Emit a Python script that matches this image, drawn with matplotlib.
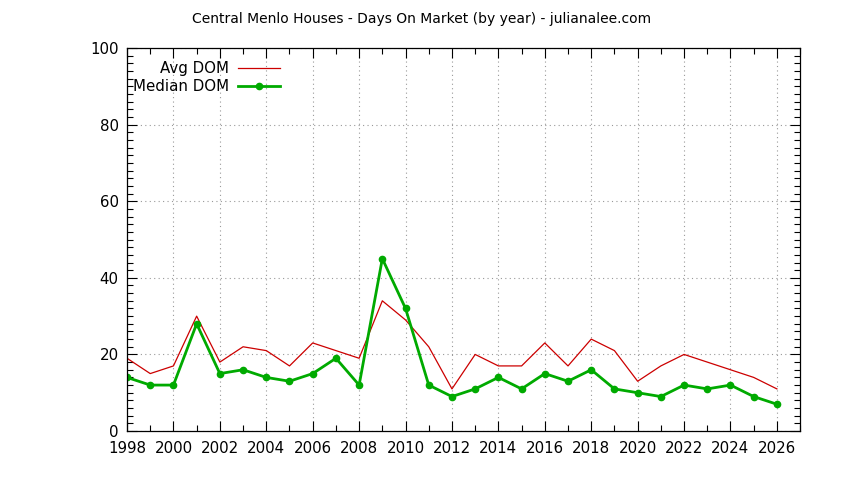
import matplotlib
matplotlib.use("Agg")
import matplotlib.pyplot as plt
from matplotlib.ticker import MultipleLocator

years = list(range(1998, 2027))
avg_dom = [19, 15, 17, 30, 18, 22, 21, 17, 23, 21, 19, 34, 29, 22, 11,
           20, 17, 17, 23, 17, 24, 21, 13, 17, 20, 18, 16, 14, 11]
median_dom = [14, 12, 12, 28, 15, 16, 14, 13, 15, 19, 12, 45, 32, 12, 9,
              11, 14, 11, 15, 13, 16, 11, 10, 9, 12, 11, 12, 9, 7]

plt.rcParams['font.family'] = ['DejaVu Sans']

fig = plt.figure(figsize=(8.44, 4.8), dpi=100)
ax = fig.add_axes([0.1505, 0.102, 0.7975, 0.798])

ax.plot(years, avg_dom, color='#cc0000', linewidth=0.9, label='Avg DOM')
ax.plot(years, median_dom, color='#00aa00', linewidth=2.0, marker='o',
        markersize=4.5, label='Median DOM')

ax.set_xlim(1998, 2027)
ax.set_ylim(0, 100)
ax.xaxis.set_major_locator(MultipleLocator(2))
ax.xaxis.set_minor_locator(MultipleLocator(1))
ax.yaxis.set_major_locator(MultipleLocator(20))
ax.yaxis.set_minor_locator(MultipleLocator(2))
ax.tick_params(which='both', direction='in', top=True, right=True,
               labelsize=10.8, colors='black')
ax.tick_params(axis='x', pad=7)
ax.tick_params(axis='y', pad=6)
ax.tick_params(which='major', length=7, width=0.8)
ax.tick_params(which='minor', length=4, width=0.8)
ax.grid(True, which='major', linestyle=(0, (1, 3)), color='#999999', linewidth=0.8)
for s in ax.spines.values():
    s.set_linewidth(0.9)
    s.set_color('black')

ax.legend(loc='upper left', bbox_to_anchor=(-0.005, 0.99), frameon=False,
          markerfirst=False, fontsize=10.8, handlelength=2.8, handletextpad=0.6,
          labelspacing=0.2, borderaxespad=0.2, alignment='right')

fig.text(0.5, 0.96, 'Central Menlo Houses - Days On Market (by year) - julianalee.com',
         ha='center', va='center', fontsize=10)

fig.savefig('out.png', dpi=100)
